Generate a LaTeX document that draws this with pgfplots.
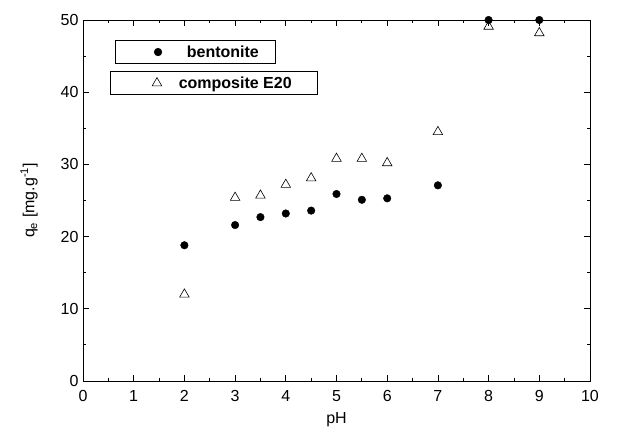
\documentclass[border=0pt]{standalone}
\usepackage{pgfplots}
\pgfplotsset{compat=1.18}
\usepackage{fontspec}
\setmainfont{Liberation Sans}
\newcommand{\bigf}{\fontsize{16pt}{18pt}\selectfont}
\begin{document}
\begin{tikzpicture}
\begin{axis}[
  name=main,
  scale only axis, width=507pt, height=361pt,
  xmin=0, xmax=10, ymin=0, ymax=50,
  xtick={0,1,...,10}, ytick={0,10,...,50},
  minor xtick={0.5,1.5,...,9.5}, minor ytick={5,15,...,45},
  tick align=inside, major tick length=6pt, minor tick length=3pt,
  tick style={black, line width=0.8pt},
  axis line style={line width=0.8pt},
  /pgf/number format/assume math mode=true,
  tick label style={font=\bigf},
  xticklabel style={yshift=-6pt},
  yticklabel style={xshift=-1pt},
  label style={font=\bigf},
  xlabel={pH}, ylabel={q\textsubscript{e} [mg.g\textsuperscript{-1}]},
  xlabel style={yshift=-4pt},
  ylabel shift=16pt,
  legend style={at={(axis cs:0.63,47.2)}, anchor=north west, draw=black, line width=0.6pt,
    font=\bigf\bfseries, inner xsep=6pt, inner ysep=3pt},
  legend image code/.code={\path (0pt,0pt) (46pt,0pt); \draw[#1, only marks] plot coordinates {(36.5pt,0pt)};},
  legend cell align=left,
  clip=false,
]
\addplot[only marks, mark=*, mark size=3.8pt, black] coordinates {
(2,18.8) (3,21.6) (3.5,22.7) (4,23.2) (4.5,23.6) (5,25.9) (5.5,25.1) (6,25.3) (7,27.1) (8,50.0) (9,50.0)};
\addlegendentry{\hspace{17pt}bentonite\kern8pt}
\addplot[only marks, mark=triangle, mark size=5.5pt, black, mark options={line width=0.6pt}] coordinates {
(2,12.0) (3,25.4) (3.5,25.7) (4,27.2) (4.5,28.1) (5,30.8) (5.5,30.8) (6,30.2) (7,34.5) (8,49.1) (9,48.2)};
\end{axis}
\begin{axis}[
  scale only axis, width=507pt, height=361pt,
  xmin=0, xmax=10, ymin=0, ymax=50, hide axis,
  legend style={at={(axis cs:0.53,42.9)}, anchor=north west, draw=black, line width=0.6pt,
    font=\bigf\bfseries, inner xsep=6pt, inner ysep=3pt},
  legend image code/.code={\path (0pt,0pt) (50pt,0pt); \draw[#1, only marks] plot coordinates {(40.5pt,0pt)};},
  legend cell align=left,
]
\addlegendimage{only marks, mark=triangle, mark size=5.5pt, black, mark options={line width=0.6pt}}
\addlegendentry{\hspace{10pt}composite E20\kern18pt}
\end{axis}
\path (main.south west) ++(-83pt,-60pt) rectangle ++(622pt,441pt);
\end{tikzpicture}
\end{document}
